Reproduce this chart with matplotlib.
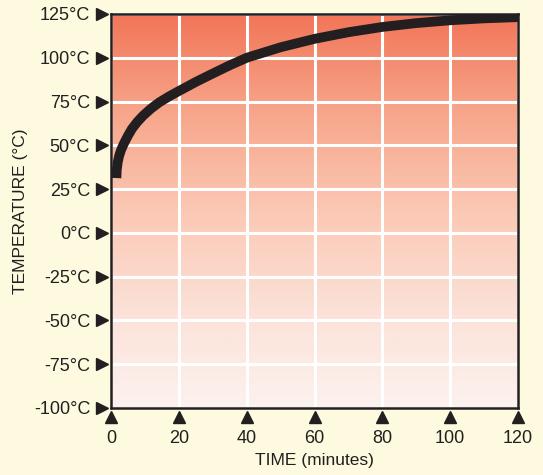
import matplotlib
matplotlib.use('Agg')
import matplotlib.pyplot as plt
import numpy as np
from matplotlib.colors import LinearSegmentedColormap

# Curve readings (minutes, degC)
time_min = [1.6, 1.7, 2.0, 2.4, 3.0, 3.8, 5.0, 6.2, 7.8, 9.5, 11.8, 14.2, 17, 20,
            25, 30, 35, 40, 50, 60, 70, 80, 90, 100, 110, 120]
temp_c = [31.3, 36, 40.5, 44, 47.5, 51, 55.5, 59.5, 63.5, 67, 71, 74.5, 77.8, 81,
          86.2, 91, 95.7, 100, 106, 110.8, 114.6, 117.6, 119.8, 121.4, 122.5, 123.2]

x_ticks = [0, 20, 40, 60, 80, 100, 120]
y_ticks = [-100, -75, -50, -25, 0, 25, 50, 75, 100, 125]
y_ticklabels = ['-100°C', '-75°C', '-50°C', '-25°C', '0°C', '25°C', '50°C', '75°C', '100°C', '125°C']

bg = '#FEFADF'
ink = '#231F20'

plt.rcParams['font.family'] = ['Liberation Sans', 'DejaVu Sans']

fig = plt.figure(figsize=(5.43, 4.75), dpi=100, facecolor=bg)
ax = fig.add_axes([111 / 543, 1 - 408 / 475, 407 / 543, 394 / 475])

# vertical gradient background
grad = LinearSegmentedColormap.from_list('g', [
    (0.0, '#FCF2EF'), (0.25, '#FCE1D7'), (0.5, '#FBC8B4'),
    (0.75, '#F7A68B'), (1.0, '#F27558')])
ax.imshow(np.linspace(0, 1, 256).reshape(-1, 1), cmap=grad, aspect='auto',
          extent=[0, 120, -100, 125], origin='lower', zorder=0)

ax.set_xlim(0, 120)
ax.set_ylim(-100, 125)
ax.set_xticks(x_ticks)
ax.set_yticks(y_ticks)
ax.grid(True, color='white', lw=2.2, zorder=1)
ax.set_axisbelow(False)

ax.plot(time_min, temp_c, color=ink, lw=7, solid_capstyle='butt',
        solid_joinstyle='round', zorder=3)

for s in ax.spines.values():
    s.set_color(ink)
    s.set_linewidth(1.8)
    s.set_zorder(4)

ax.tick_params(length=0, labelsize=13, colors=ink)
ax.set_yticklabels(y_ticklabels)
ax.tick_params(axis='y', pad=15)
ax.tick_params(axis='x', pad=16)

# triangle markers
ytr = ax.get_yaxis_transform()
xtr = ax.get_xaxis_transform()
ax.plot([-0.023] * len(y_ticks), y_ticks, marker='>', ls='none', ms=9,
        color=ink, transform=ytr, clip_on=False, zorder=5)
ax.plot(x_ticks, [-0.024] * len(x_ticks), marker='^', ls='none', ms=9,
        color=ink, transform=xtr, clip_on=False, zorder=5)

ax.set_xlabel('TIME (minutes)', fontsize=12.5, color=ink, labelpad=4)
ax.set_ylabel('TEMPERATURE (°C)', fontsize=12.5, color=ink, labelpad=4)

fig.savefig('out.png', dpi=100, facecolor=bg)
